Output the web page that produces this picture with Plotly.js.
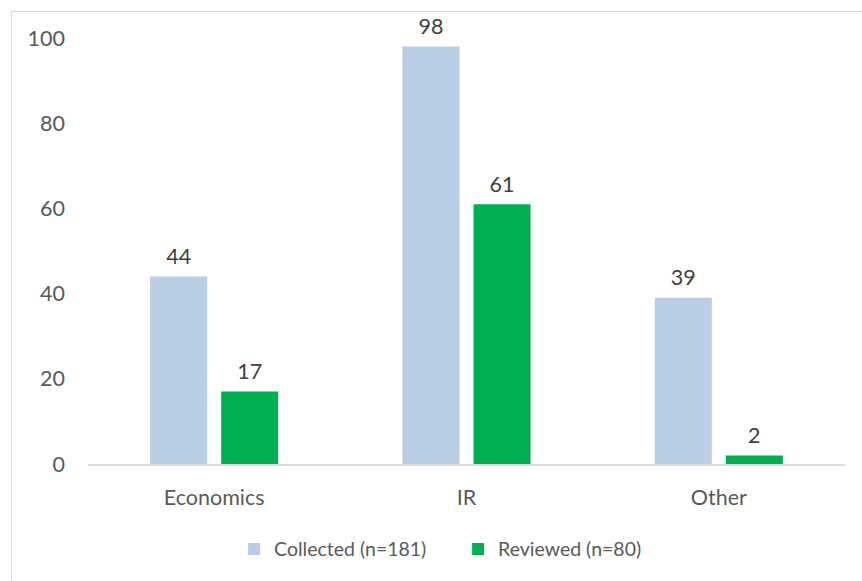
<!DOCTYPE html>
<html>
<head>
<meta charset="utf-8">
<script src="https://cdn.plot.ly/plotly-3.0.1.min.js"></script>
<style>
  html, body { margin: 0; padding: 0; background: #fff; overflow: hidden; }
  #frame { position: absolute; left: 11px; top: 11px; width: 851px; height: 570px;
           border-top: 1px solid #D9D9D9; border-left: 1px solid #D9D9D9; }
  #chart { width: 850px; height: 569px; }
</style>
</head>
<body>
<div id="frame"><div id="chart"></div></div>
<script>
const categories = ["Economics", "IR", "Other"];
const collected = [44, 98, 39];
const reviewed = [17, 61, 2];
const seriesNames = ["Collected (n=181)", "Reviewed (n=80)"];
const yTicks = [0, 20, 40, 60, 80, 100];

const FONT = "Lato, 'Open Sans', sans-serif";
const colors = ["#B9CDE5", "#00B050"];
const series = [collected, reviewed];

const traces = [];
series.forEach((vals, i) => {
  traces.push({
    type: "bar", name: seriesNames[i], x: categories, y: vals,
    offsetgroup: String(i), alignmentgroup: "a",
    marker: { color: colors[i] },
    hoverinfo: "skip"
  });
});
series.forEach((vals, i) => {
  traces.push({
    type: "scatter", mode: "markers+text", x: categories, y: vals,
    offsetgroup: String(i), alignmentgroup: "a",
    text: vals.map(String), textposition: "top center",
    textfont: { family: FONT, size: 21.5, color: "#404040" },
    marker: { size: 10, opacity: 0 },
    cliponaxis: false, showlegend: false, hoverinfo: "skip"
  });
});

const layout = {
  width: 850, height: 569,
  margin: { l: 76, r: 17, t: 26, b: 117 },
  paper_bgcolor: "#fff", plot_bgcolor: "#fff",
  font: { family: FONT, size: 21, color: "#595959" },
  barmode: "group", bargap: 0.437, bargroupgap: 0.197,
  scattermode: "group", scattergap: 0.437,
  showlegend: true,
  legend: {
    orientation: "h", x: 0.193, xanchor: "left", y: -0.2, yanchor: "middle",
    font: { family: FONT, size: 19.5, color: "#595959" },
    itemwidth: 30, entrywidth: 179, traceorder: "normal"
  },
  xaxis: {
    type: "category", showgrid: false, zeroline: false,
    showline: true, linecolor: "#D9D9D9", linewidth: 1.5,
    ticks: "", ticklabelstandoff: 14,
    tickfont: { family: FONT, size: 21.5, color: "#595959" }
  },
  yaxis: {
    range: [0, 100], tickvals: yTicks, ticktext: yTicks.map(String),
    showgrid: false, zeroline: false, showline: false, ticks: "",
    ticklabelstandoff: 22,
    tickfont: { family: FONT, size: 21.5, color: "#595959" }
  }
};

Plotly.newPlot("chart", traces, layout, { staticPlot: true, displayModeBar: false });
</script>
</body>
</html>
